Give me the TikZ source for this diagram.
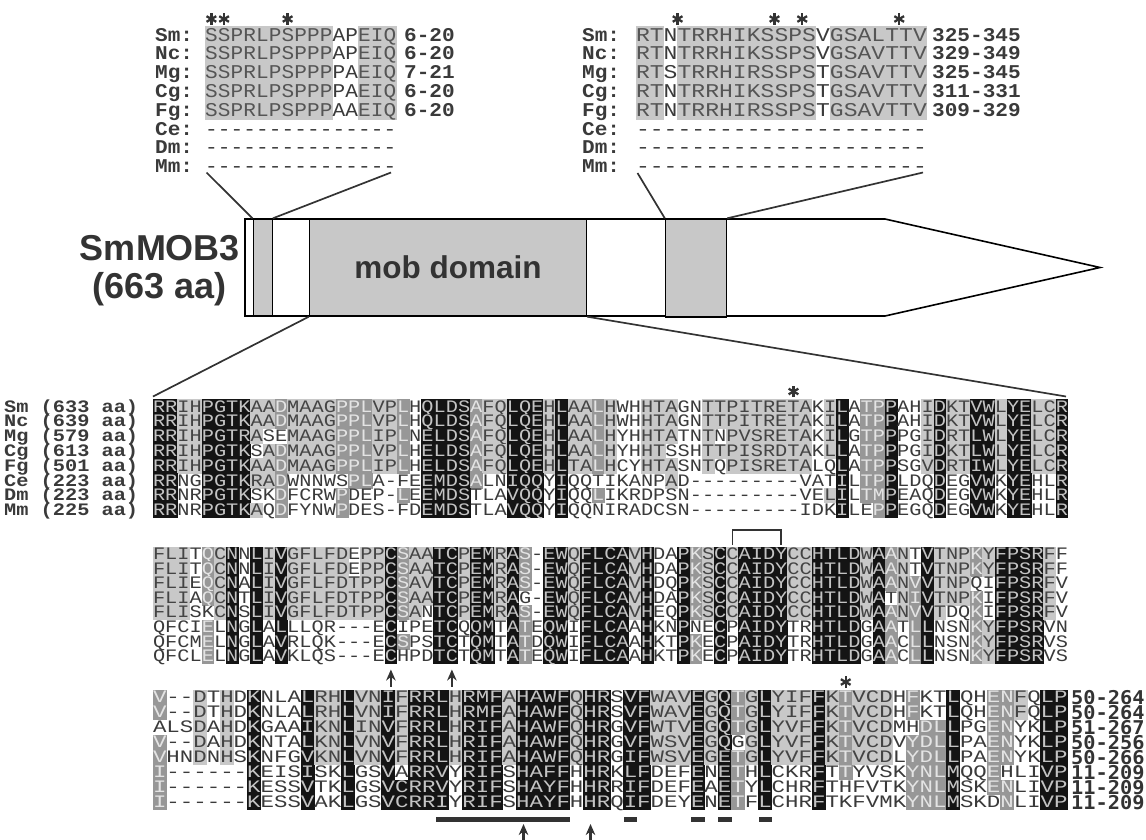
\documentclass[tikz,border=0pt]{standalone}
\usepackage{fontspec}
\usetikzlibrary{arrows.meta,calc}
\setmainfont{Liberation Sans}
\newfontfamily\fA{Liberation Mono}[FakeStretch=1.16]
\newfontfamily\fB{Liberation Mono}[FakeStretch=1.28]
\newfontfamily\fC{Liberation Mono}[FakeStretch=1.08]
\newfontfamily\fD{Liberation Mono}[FakeStretch=1.18]
\newfontfamily\fN{DejaVu Sans Mono}[FakeStretch=1.07]
\newcommand\sA{\fA\fontsize{17.5}{17.5}\selectfont}
\newcommand\sB{\fB\fontsize{17.5}{17.5}\selectfont}
\newcommand\sC{\fC\fontsize{19.5}{19.5}\selectfont}
\newcommand\sD{\fD\fontsize{19.5}{19.5}\selectfont}
\definecolor{fillk}{HTML}{141414}\definecolor{textk}{HTML}{C4C4C4}
\definecolor{filld}{HTML}{979797}\definecolor{textd}{HTML}{E4E4E4}
\definecolor{filll}{HTML}{C8C8C8}\definecolor{textl}{HTML}{444444}
\definecolor{fillw}{HTML}{FFFFFF}\definecolor{textw}{HTML}{3A3A3A}
\definecolor{fillg}{HTML}{C8C8C8}\definecolor{textg}{HTML}{555555}
\definecolor{linec}{HTML}{333333}
\newcount\cc
\def\bofs{5.2}
\def\dtwo#1#2\dend#3#4\dend{%
  \onecell{#3}{#1}%
  \ifx\relax#2\relax\else\dtwo#2\dend#4\dend\fi}
\newcommand\onecell[2]{%
  \pgfmathsetmacro\xa{\xo+\the\cc*\cw}%
  \ifx w#1\else\fill[color=fill#1] (\xa-0.3,\yt-0.3) rectangle ++(\cw+0.6,\rh+0.6);\fi
  \node[inner sep=0pt,anchor=base,text=text#1,font=\sqf,text depth=0pt,text height=10.5pt] (\nmp\the\cc) at (\xa+0.5*\cw,\yt+0.5*\rh+\bofs) {#2};%
  \global\advance\cc by 1\relax}
\newcommand\seqrow[8]{%
  \def\nmp{#1}\def\xo{#2}\def\yt{#3}\def\cw{#4}\def\rh{#5}\def\sqf{#6}%
  \global\cc=0\relax
  \dtwo#7\dend#8wwwwwwwwwwwwwwww\dend}
\newcommand\astk[1]{\foreach \ang in {90,30,150}{\draw[line width=2.3pt,color=linec] ($(#1)+(\ang:5.6)$) -- ($(#1)-(\ang:5.6)$);}}
\tikzset{
  lab/.style={inner sep=0pt,anchor=base west,font=\sA\bfseries,text=textw,text depth=0pt,text height=10.5pt},
  tlab/.style={inner sep=0pt,anchor=base west,font=\sC\bfseries,text=textw,text depth=0pt,text height=11.5pt},
  tnum/.style={inner sep=0pt,anchor=base west,font=\sC\bfseries,text=textw,text depth=0pt,text height=11.5pt},
  bignum/.style={inner sep=0pt,anchor=base west,font=\fN\fontsize{19}{19}\selectfont\bfseries,text=linec,text depth=0pt,text height=12.5pt},
  conn/.style={line width=1.7pt,color=linec},
  outl/.style={draw=black,line width=1.6pt},
  dombox/.style={draw=black,line width=1.4pt,fill=filll},
  upar/.style={line width=2.4pt,color=linec,-{Stealth[length=11pt,width=9.5pt]}},
  barm/.style={fill=linec},
  bigtxt/.style={inner sep=0pt,font=\bfseries\fontsize{36}{36}\selectfont,text=linec},
}
\begin{document}
\begin{tikzpicture}[x=1pt,y=-1pt]
\useasboundingbox (0,0) rectangle (1146,839);
% ================= top-left alignment
\def\bofs{5.6}
\coordinate (ts1) at (211.4,19);\astk{ts1}
\coordinate (ts2) at (224.1,19);\astk{ts2}
\coordinate (ts3) at (287.6,19);\astk{ts3}
\foreach \nm/\yy in {Sm/26,Nc/44.8,Mg/63.6,Cg/82.4,Fg/101.2,Ce/120,Dm/138.8,Mm/157.6}{
  \node[tlab] (tl\nm) at (155,\yy+15) {\nm:};
}
\foreach \nm/\yy/\nn in {Sm/26/6-20,Nc/44.8/6-20,Mg/63.6/7-21,Cg/82.4/6-20,Fg/101.2/6-20}{
  \node[tnum] (tn\nm) at (404,\yy+15) {\nn};
}
\seqrow{qaa}{205}{26}{12.75}{18.8}{\sC}{SSPRLPSPPP APEIQ}{gggggggggg wwggg}
\seqrow{qab}{205}{44.8}{12.75}{18.8}{\sC}{SSPRLPSPPP APEIQ}{gggggggggg wwggg}
\seqrow{qac}{205}{63.6}{12.75}{18.8}{\sC}{SSPRLPSPPP PAEIQ}{gggggggggg wwggg}
\seqrow{qad}{205}{82.4}{12.75}{18.8}{\sC}{SSPRLPSPPP PAEIQ}{gggggggggg wwggg}
\seqrow{qae}{205}{101.2}{12.75}{18.8}{\sC}{SSPRLPSPPP AAEIQ}{gggggggggg wwggg}
\seqrow{qaf}{205}{120}{12.75}{18.8}{\sC}{---------- -----}{wwwwwwwwww wwwww}
\seqrow{qag}{205}{138.8}{12.75}{18.8}{\sC}{---------- -----}{wwwwwwwwww wwwww}
\seqrow{qah}{205}{157.6}{12.75}{18.8}{\sC}{---------- -----}{wwwwwwwwww wwwww}
% ================= top-right alignment
\coordinate (us1) at (677.6,19);\astk{us1}
\coordinate (us2) at (774.5,19);\astk{us2}
\coordinate (us3) at (802.2,19);\astk{us3}
\coordinate (us4) at (899.2,19);\astk{us4}
\foreach \nm/\yy in {Sm/26,Nc/44.8,Mg/63.6,Cg/82.4,Fg/101.2,Ce/120,Dm/138.8,Mm/157.6}{
  \node[tlab] (ul\nm) at (582,\yy+15) {\nm:};
}
\foreach \nm/\yy/\nn in {Sm/26/325-345,Nc/44.8/329-349,Mg/63.6/325-345,Cg/82.4/311-331,Fg/101.2/309-329}{
  \node[tnum] (un\nm) at (932,\yy+15) {\nn};
}
\seqrow{qba}{636}{26}{13.85}{18.8}{\sD}{RTNTRRHIKS SPSVGSALTT V}{ggwggggggg gggwgggggg g}
\seqrow{qbb}{636}{44.8}{13.85}{18.8}{\sD}{RTNTRRHIKS SPSVGSAVTT V}{ggwggggggg gggwgggggg g}
\seqrow{qbc}{636}{63.6}{13.85}{18.8}{\sD}{RTSTRRHIRS SPSTGSAVTT V}{ggwggggggg gggwgggggg g}
\seqrow{qbd}{636}{82.4}{13.85}{18.8}{\sD}{RTNTRRHIKS SPSTGSAVTT V}{ggwggggggg gggwgggggg g}
\seqrow{qbe}{636}{101.2}{13.85}{18.8}{\sD}{RTNTRRHIRS SPSTGSAVTT V}{ggwggggggg gggwgggggg g}
\seqrow{qbf}{636}{120}{13.85}{18.8}{\sD}{---------- ---------- -}{wwwwwwwwww wwwwwwwwww w}
\seqrow{qbg}{636}{138.8}{13.85}{18.8}{\sD}{---------- ---------- -}{wwwwwwwwww wwwwwwwwww w}
\seqrow{qbh}{636}{157.6}{13.85}{18.8}{\sD}{---------- ---------- -}{wwwwwwwwww wwwwwwwwww w}
% ================= schematic
\node[bigtxt] (name1) at (160,248) {SmMOB3};
\node[bigtxt] (name2) at (160,289) {(663 aa)};
\draw[outl,fill=white] (245,219) -- (885,219) -- (1100,267.5) -- (885,316) -- (245,316) -- cycle;
\node[dombox,minimum width=19pt,minimum height=97pt,inner sep=0pt] (box1) at (262.7,267.5) {};
\node[dombox,minimum width=277pt,minimum height=97pt,inner sep=0pt,font=\bfseries\fontsize{31.5}{31.5}\selectfont,text=linec] (mob) at (448,267.5) {mob domain};
\node[dombox,minimum width=61pt,minimum height=98pt,inner sep=0pt] (box2) at (696,268) {};
\draw[outl] (586.5,219) -- (586.5,316);
\coordinate (a1) at (206.5,172.5);
\coordinate (a2) at (391,172.5);
\coordinate (a3) at (637.5,173);
\coordinate (a4) at (923,172.5);
\draw[conn] (a1) -- (box1.north west);
\draw[conn] (a2) -- (box1.north east);
\draw[conn] (a3) -- (box2.north west);
\draw[conn] (a4) -- (box2.north east);
\coordinate (b1) at (153,396.5);
\coordinate (b2) at (1066,396.5);
\draw[conn] (mob.south west) -- (b1);
\draw[conn] (mob.south east) -- (b2);
% ================= block 1
\def\bofs{5.2}
\foreach \nm/\ln/\yy in {Sm/633/399.5,Nc/639/414.3,Mg/579/429.1,Cg/613/443.9,Fg/501/458.7,Ce/223/473.5,Dm/223/488.3,Mm/225/503.1}{
  \node[lab] (bl\nm) at (4,\yy+12.6) {\nm\ (\ln\ aa)};
}
\coordinate (st1) at (793.5,391.5);\astk{st1}
\seqrow{ba}{153}{399.5}{12.2}{14.8}{\sA}{RRIHPGTKAA DMAAGPPLVP LHQLDSAFQL QEHLAALHWH HTAGNTTPIT RETAKILATP PAHIDKTVWL YELCR}{kkllkkkkll dlllldddll dwkkkkdllk kklklldlww lllwwlllll llllwlkwdd kwwlkllkkl kkllk}
\seqrow{bb}{153}{414.3}{12.2}{14.8}{\sA}{RRIHPGTKAA DMAAGPPLVP LHQLDSAFQL QEHLAALHWH HTAGNTTPIT RETAKILATP PAHIDKTVWL YELCR}{kkllkkkkll dlllldddll dwkkkkdllk kklklldlww lllwwlllll llllwlkwdd kwwlkllkkl kkllk}
\seqrow{bc}{153}{429.1}{12.2}{14.8}{\sA}{RRIHPGTRAS EMAAGPPLIP LNELDSAFQL QEHLAALHYH HTATNTNPVS RETAKILGTP PPGIDRTLWL YELCR}{kkllkkkklw wlllldddll dwkkkkdllk kklklldlww lllwwlwlll llllwlkwdd kwwlkllkkl kkllk}
\seqrow{bd}{153}{443.9}{12.2}{14.8}{\sA}{RRIHPGTKSA DMAAGPPLVP LHELDSAFQL QEHLAALHYH HTSSHTTPIS RDTAKLLATP PPGIDKTLWL YELCR}{kkllkkkkwl dlllldddll dwkkkkdllk kklklldlww llwwwlllll llllwlkwdd kwwlkllkkl kkllk}
\seqrow{be}{153}{458.7}{12.2}{14.8}{\sA}{RRIHPGTKAA DMAAGPPLIP LHELDSAFQL QEHLTALHCY HTASNTQPIS RETALQLATP PSGVDRTIWL YELCR}{kkllkkkkll dlllldddll dwkkkkdllk kklklldlww lllwwlwlll llllwwkwdd kwwlkllkkl kkllk}
\seqrow{bf}{153}{473.5}{12.2}{14.8}{\sA}{RRNGPGTKRA DWNNWSPLA- FEEMDSALNI QQYIQQTIKA NPAD------ ---VATILTP PLDQDEGVWK YEHLR}{kkwwkkkkll dwwwwwddww wwkkkkdwwk kkwkwwwwww wwlwwwwwww wwwwwwkwdd kwwwkwwkkw kkwwk}
\seqrow{bg}{153}{488.3}{12.2}{14.8}{\sA}{RRNRPGTKSK DFCRWPDEP- LEEMDSTLAV QQYIQQLIKR DPSN------ ---VELILTM PEAQDEGVWK YEHLR}{kkwwkkkkww dwwwwdwwww dwkkkkwwwk kkwkwwdwww wwwwwwwwww wwwwwlkwdd kwwwkwwkkw kkwwk}
\seqrow{bh}{153}{503.1}{12.2}{14.8}{\sA}{RRNRPGTKAQ DFYNWPDES- FDEMDSTLAV QQYIQQNIRA DCSN------ ---IDKILEP PEGQDEGVWK YEHLR}{kkwwkkkklw dwwwwdwwww wwkkkkwwwk kkwkwwwwww wwwwwwwwww wwwwwwkwwd kwwwkwwkkw kkwwk}
% ================= block 2
\draw[line width=1.8pt,color=linec] (732.5,545) -- (732.5,530) -- (781.3,530) -- (781.3,545);
\seqrow{ca}{153}{547}{12.2}{14.6}{\sA}{FLITQCNNLI VGFLFDEPPC SAATCPEMRA S-EWQFLCAV HDAPKSCCAI DYCCHTLDWA ANTVTNPKYF PSRFF}{lllwdlkwkl klllllwllk dllkklkklk dwkklkkkkl kwwkdlklkk kkllkkkklk dlwkllldlk kkklw}
\seqrow{cb}{153}{561.6}{12.2}{14.6}{\sA}{FLITQCNNLI VGFLFDEPPC SAATCPEMRA S-EWQFLCAV HDAPKSCCAI DYCCHTLDWA ANTVTNPKYF PSRFF}{lllwdlkwkl klllllwllk dllkklkklk dwkklkkkkl kwwkdlklkk kkllkkkklk dlwkllldlk kkklw}
\seqrow{cc}{153}{576.2}{12.2}{14.6}{\sA}{FLIEQCNALI VGFLFDTPPC SAVTCPEMRA S-EWQFLCAV HDQPKSCCAI DYCCHTLDWA ANVVTNPQIF PSRFV}{lllwdlkwkl kllllllllk dllkklkklk dwkklkkkkl kwwkdlklkk kkllkkkklk dldklllwwk kkklw}
\seqrow{cd}{153}{590.8}{12.2}{14.6}{\sA}{FLIAQCNTLI VGFLFDTPPC SAATCPEMRA G-EWQFLCAV HDAPKSCCAI DYCCHTLDWA TNIVTNPKIF PSRFV}{lllwdlkwkl kllllllllk dllkklkklk wwkklkkkkl kwwkdlklkk kkllkkkklk wldkllldwk kkklw}
\seqrow{ce}{153}{605.4}{12.2}{14.6}{\sA}{FLISKCNSLI VGFLFDTPPC SANTCPEMRA S-EWQFLCAV HEQPKSCCAI DYCCHTLDWA ANVVTDQKIF PSRFV}{lllwwlkwkl kllllllllk dlwkklkklk dwkklkkkkl kwwkdlklkk kkllkkkklk dldklwwdwk kkklw}
\seqrow{cf}{153}{620}{12.2}{14.6}{\sA}{QFCIELNGLA LLLQR---EC IPETCQQMTA TEQWIFLCAA HKNPNECPAI DYTRHTLDGA ATLLNSNKYF PSRVN}{wwwwdwkwkw kwwwwwwwwk wwwkkwkkwk dwkkwkkkkw kwwkwwkwkk kkwwkkkkwk dwdkwwwdlk kkkww}
\seqrow{cg}{153}{634.6}{12.2}{14.6}{\sA}{QFCMELNGLA VRLQK---EC SPSTCTQMTA TDQWIFLCAA HKTPKECPAI DYTRHTLDGA ACLLNSNKYF PSRVS}{wwwwdwkwkw kwwwwwwwwk dwwkkwkkwk dwkkwkkkkw kwwkdwkwkk kkwwkkkkwk dwdkwwwdlk kkkww}
\seqrow{ch}{153}{649.2}{12.2}{14.6}{\sA}{QFCLELNGLA VKLQS---EC HPDTCTQMTA TEQWIFLCAA HKTPKECPAI DYTRHTLDGA ACLLNSNKYF PSRVS}{wwwwdwkwkw kwwwwwwwwk wwwkkwkkwk dwkkwkkkkw kwwkdwkwkk kkwwkkkkwk dwdkwwwdlk kkkww}
\coordinate (p1) at (390.9,686.5);
\coordinate (p1t) at (390.9,669.5);
\coordinate (p2) at (451.9,686.5);
\coordinate (p2t) at (451.9,669.5);
\draw[upar] (p1) -- (p1t);
\draw[upar] (p2) -- (p2t);
% ================= block 3
\coordinate (st2) at (845.7,682);\astk{st2}
\seqrow{da}{153}{690}{13.45}{15}{\sB}{V--DTHDKNL ALRHLVNIFR RLHRMFAHAW FQHRSVFWAV EGQTGLYIFF KTVCDHFKTL QHENFQLP}{dwwlwlwkww wkllkllklk kklkkklkkk klkkwkklll klkdlklllk ldlllwdwwk wwddlwkk}
\seqrow{db}{153}{705}{13.45}{15}{\sB}{V--DTHDKNL ALRHLVNIFR RLHRMFAHAW FQHRSVFWAV EGQTGLYIFF KTVCDHFKTL QHENFQLP}{dwwlwlwkww wkllkllklk kklkkklkkk klkkwkklll klkdlklllk ldlllwdwwk wwddlwkk}
\seqrow{dc}{153}{720}{13.45}{15}{\sB}{ALSDAHDKGA AIKNLINVFR RLHRIFAHAW FQHRGVFWTV EGQTGLYVFF KTVCDMHDLL PGENYKLP}{wwwlwlwkww wkllkllklk kklkkklkkk klkkwkklll klkdlklllk ldlllwwddk wwddwwkk}
\seqrow{dd}{153}{735}{13.45}{15}{\sB}{V--DAHDKNT ALKNLVNVFR RLHRIFAHAW FQHRGVFWSV EGQGGLYVFF KTVCDVYDLL PAENYKLP}{dwwlwlwkww wkllkllklk kklkkklkkk klkkwkklll klkwlklllk ldlllwdddk wwddwwkk}
\seqrow{de}{153}{750}{13.45}{15}{\sB}{VHNDNHSKNF GVKNLVNVFR RLHRIFAHAW FQHRGIFWSV EGETGLYVFF KTVCDLYDLL PAENYKLP}{dwwlwlwkww wkllkllklk kklkkklkkk klkkwkklll klkdlklllk ldlllwdddk wwddwwkk}
\seqrow{df}{153}{765}{13.45}{15}{\sB}{I------KEI SISKLGSVAR RVYRIFSHAF FHHRKLFDEF ENETHLCKRF TTYVSKYNLM QQEHLIVP}{dwwwwwwkww wkwwkwwkwk kkwkkkwkkk kwkkwkkwww kwkdwkwwwk wdwwwwdddk wwdwwwkk}
\seqrow{dg}{153}{780}{13.45}{15}{\sB}{I------KES SVTKLGSVCR RVYRIFSHAY FHHRRIFDEF EAETYLCHRF THFVTKYNLM SKENLIVP}{dwwwwwwkww wkwwkwwkkk kkwkkkwkkk kwkkwkkwww kwkdwkwwwk wwwwwwdddk wwddwwkk}
\seqrow{dh}{153}{795}{13.45}{15}{\sB}{I------KES SVAKLGSVCR RIYRIFSHAY FHHRQIFDEY ENETFLCHRF TKFVMKYNLM SKDNLIVP}{dwwwwwwkww wkwwkwwkkk kkwkkkwkkk kwkkwkkwww kwkdwkwwwk wwwwwwdddk wwwdwwkk}
\foreach \nm/\nn/\yy in {a/50-264/690,b/50-264/705,c/51-267/720,d/50-256/735,e/50-266/750,f/11-209/765,g/11-209/780,h/11-209/795}{
  \node[bignum] (rn\nm) at (1071,\yy+14) {\nn};
}
\fill[barm] (436,816.5) rectangle (570,821.5);
\fill[barm] (624,816.5) rectangle (637,821.5);
\fill[barm] (691,816.5) rectangle (704.5,821.5);
\fill[barm] (718,816.5) rectangle (731.5,821.5);
\fill[barm] (758.5,816.5) rectangle (771.5,821.5);
\coordinate (q1) at (523.5,840);
\coordinate (q1t) at (523.5,824);
\coordinate (q2) at (590.5,840);
\coordinate (q2t) at (590.5,824);
\draw[upar] (q1) -- (q1t);
\draw[upar] (q2) -- (q2t);
\end{tikzpicture}
\end{document}
